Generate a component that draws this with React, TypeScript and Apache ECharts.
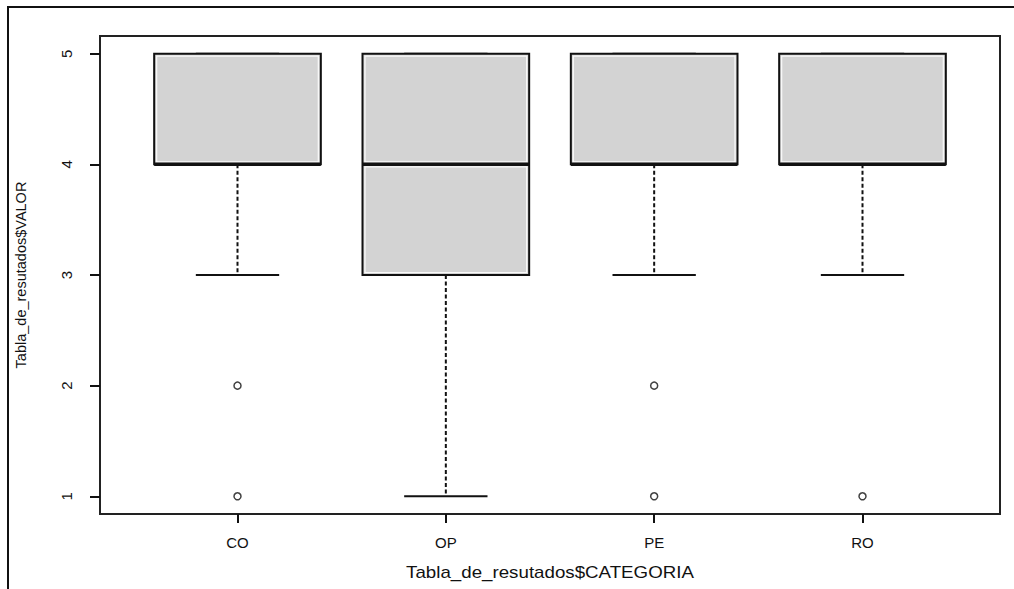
import React, { useEffect, useRef } from "react";
import * as echarts from "echarts";

const categories = ["CO", "OP", "PE", "RO"];
const lowerWhisker = [3, 1, 3, 3];
const q1 = [4, 3, 4, 4];
const median = [4, 4, 4, 4];
const q3 = [5, 5, 5, 5];
const upperWhisker = [5, 5, 5, 5];
const outliers: number[][] = [[2, 1], [], [2, 1], [1]];
const yTicks = [1, 2, 3, 4, 5];
const xTicks = [1, 2, 3, 4];
const xTitle = "Tabla_de_resutados$CATEGORIA";
const yTitle = "Tabla_de_resutados$VALOR";

const FONT = "Liberation Sans, Arial, sans-serif";

export default function App() {
  const ref = useRef<HTMLDivElement>(null);
  useEffect(() => {
    if (!ref.current) return;
    const chart = echarts.init(ref.current, null, { renderer: "svg" });
    const boxData = categories.map((_, i) => [
      i + 1,
      lowerWhisker[i],
      q1[i],
      median[i],
      q3[i],
      upperWhisker[i],
    ]);
    const outlierData: number[][] = [];
    outliers.forEach((arr, i) => arr.forEach((v) => outlierData.push([i + 1, v])));

    const option: any = {
      animation: false,
      backgroundColor: "#fff",
      grid: {
        left: 100,
        right: 14,
        top: 36,
        bottom: 75,
        show: true,
        borderColor: "#222",
        borderWidth: 2,
        backgroundColor: "transparent",
      },
      graphic: [
        {
          type: "rect",
          shape: { x: 8, y: 7, width: 1200, height: 800 },
          style: { fill: "none", stroke: "#111", lineWidth: 2 },
          silent: true,
        },
        {
          type: "text",
          x: 550,
          y: 572,
          scaleX: 1.17,
          style: {
            text: xTitle,
            fontFamily: FONT,
            fontSize: 16,
            fill: "#111",
            align: "center",
            verticalAlign: "middle",
          },
          silent: true,
        },
      ],
      xAxis: {
        type: "value",
        min: 0.34,
        max: 4.66,
        splitLine: { show: false },
        axisLine: { show: false },
        axisTick: {
          show: true,
          inside: false,
          length: 9,
          lineStyle: { color: "#111", width: 2 },
          customValues: xTicks,
        },
        axisLabel: {
          show: true,
          margin: 21,
          fontFamily: FONT,
          fontSize: 15,
          color: "#111",
          customValues: xTicks,
          formatter: (v: number) => categories[Math.round(v) - 1] ?? "",
        },
      },
      yAxis: {
        type: "value",
        min: 0.84,
        max: 5.16,
        name: yTitle,
        nameLocation: "middle",
        nameGap: 72,
        nameRotate: 90,
        nameTextStyle: { fontFamily: FONT, fontSize: 14.5, color: "#111" },
        splitLine: { show: false },
        axisLine: { show: false },
        axisTick: {
          show: true,
          inside: false,
          length: 10,
          lineStyle: { color: "#111", width: 2 },
          customValues: yTicks,
        },
        axisLabel: {
          show: true,
          rotate: 90,
          margin: 26,
          fontFamily: FONT,
          fontSize: 15,
          color: "#111",
          customValues: yTicks,
        },
      },
      series: [
        {
          type: "custom",
          data: boxData,
          renderItem: (params: any, api: any) => {
            const x = api.value(0);
            const lo = api.coord([x, api.value(1)]);
            const b1 = api.coord([x, api.value(2)]);
            const md = api.coord([x, api.value(3)]);
            const b3 = api.coord([x, api.value(4)]);
            const hi = api.coord([x, api.value(5)]);
            const hw = api.size([0.4, 0])[0];
            const cx = lo[0];
            const sw = hw / 2;
            const children: any[] = [];
            const black = "#111";
            children.push({
              type: "line",
              shape: { x1: cx, y1: b1[1], x2: cx, y2: lo[1] },
              style: { stroke: black, lineWidth: 2, lineDash: [4, 2.5] },
            });
            children.push({
              type: "line",
              shape: { x1: cx, y1: b3[1], x2: cx, y2: hi[1] },
              style: { stroke: black, lineWidth: 2, lineDash: [4, 2.5] },
            });
            children.push({
              type: "line",
              shape: { x1: cx - sw, y1: lo[1], x2: cx + sw, y2: lo[1] },
              style: { stroke: black, lineWidth: 2 },
            });
            children.push({
              type: "line",
              shape: { x1: cx - sw, y1: hi[1], x2: cx + sw, y2: hi[1] },
              style: { stroke: black, lineWidth: 2 },
            });
            children.push({
              type: "rect",
              shape: { x: cx - hw, y: b3[1], width: hw * 2, height: b1[1] - b3[1] },
              style: { fill: "#d3d3d3", stroke: black, lineWidth: 2 },
            });
            const inset = 2.5;
            const parts = [
              [b3[1], md[1]],
              [md[1], b1[1]],
            ];
            parts.forEach(([top, bot]) => {
              if (bot - top > inset * 2 + 2) {
                children.push({
                  type: "rect",
                  shape: {
                    x: cx - hw + inset,
                    y: top + inset,
                    width: hw * 2 - inset * 2,
                    height: bot - top - inset * 2,
                  },
                  style: { fill: "none", stroke: "#fafafa", lineWidth: 1.2 },
                });
              }
            });
            children.push({
              type: "line",
              shape: { x1: cx - hw, y1: md[1], x2: cx + hw, y2: md[1] },
              style: { stroke: black, lineWidth: 3.5 },
            });
            return { type: "group", children };
          },
          z: 2,
        },
        {
          type: "scatter",
          data: outlierData,
          symbol: "circle",
          symbolSize: 7,
          itemStyle: { color: "#fff", borderColor: "#111", borderWidth: 1.5 },
          z: 3,
        },
      ],
    };
    chart.setOption(option);
    return () => chart.dispose();
  }, []);
  return (
    <div
      ref={ref}
      style={{ position: "fixed", left: 0, top: 0, width: 1014, height: 589 }}
    />
  );
}
